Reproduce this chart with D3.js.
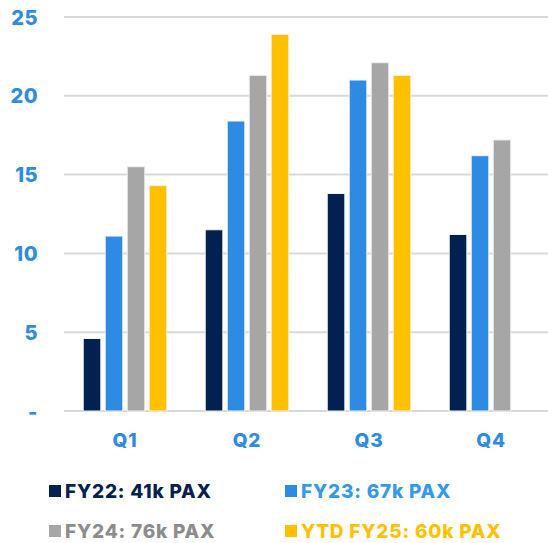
<!DOCTYPE html>
<html>
<head>
<meta charset="utf-8">
<script src="https://cdn.jsdelivr.net/npm/d3@7"></script>
<style>
  body { margin: 0; background: #fff; }
  svg text { font-family: Inter, "Open Sans", sans-serif; font-weight: 800; }
</style>
</head>
<body>
<div class="chart"></div>
<script>
// data
const quarters = ['Q1', 'Q2', 'Q3', 'Q4'];
const seriesNames = ['FY22', 'FY23', 'FY24', 'FY25'];
const fy22 = [4.6, 11.5, 13.8, 11.2];
const fy23 = [11.1, 18.4, 21.0, 16.2];
const fy24 = [15.5, 21.3, 22.1, 17.2];
const fy25 = [14.3, 23.9, 21.3, null];
const yTicks = [0, 5, 10, 15, 20, 25];
const legendLabels = ['FY22: 41k PAX', 'FY23: 67k PAX', 'FY24: 76k PAX', 'YTD FY25: 60k PAX'];

const barColors = ['#022050', '#2e8be4', '#a6a6a6', '#ffc000'];
const textColors = ['#022050', '#3399ee', '#8c8c8c', '#ffc000'];

const width = 548, height = 543;
const svg = d3.select('.chart').append('svg')
    .attr('width', width)
    .attr('height', height);

const allSeries = [fy22, fy23, fy24, fy25];

const x = d3.scaleBand()
    .domain(quarters)
    .range([64, 552]);

const xInner = d3.scaleBand()
    .domain(seriesNames)
    .range([0, x.bandwidth()])
    .paddingInner(0.2)
    .paddingOuter(0.875);

const y = d3.scaleLinear()
    .domain([0, 25])
    .range([411, 17]);

// gridlines
svg.append('g')
    .selectAll('line')
    .data(yTicks)
    .enter().append('line')
    .attr('x1', 64)
    .attr('x2', width)
    .attr('y1', d => y(d))
    .attr('y2', d => y(d))
    .style('stroke', '#d9d9d9')
    .style('stroke-width', 2);

// y axis labels
const yAxis = d3.axisLeft(y)
    .tickValues(yTicks)
    .tickSize(0)
    .tickPadding(0)
    .tickFormat(d => d === 0 ? '-' : d);

svg.append('g')
    .attr('transform', 'translate(38,0)')
    .call(yAxis)
    .call(g => g.select('.domain').remove())
    .selectAll('text')
    .style('font-size', '20px')
    .style('letter-spacing', '0.5px')
    .style('fill', '#2e8be4')
    .attr('dy', '0.35em');

// bars
const groups = svg.append('g')
    .selectAll('g')
    .data(quarters)
    .enter().append('g')
    .attr('transform', d => `translate(${x(d)},0)`);

groups.selectAll('rect')
    .data((q, qi) => seriesNames.map((s, si) => ({ s: s, si: si, v: allSeries[si][qi] })).filter(d => d.v != null))
    .enter().append('rect')
    .attr('x', d => xInner(d.s))
    .attr('y', d => y(d.v))
    .attr('width', xInner.bandwidth())
    .attr('height', d => y(0) - y(d.v))
    .style('fill', d => barColors[d.si])
    .style('stroke', '#f2f2f2')
    .style('stroke-width', 1);

// x axis labels
const xAxis = d3.axisBottom(x).tickSize(0).tickPadding(0);
svg.append('g')
    .attr('transform', 'translate(0,440)')
    .call(xAxis)
    .call(g => g.select('.domain').remove())
    .selectAll('text')
    .attr('dy', '0.35em')
    .style('font-size', '19px')
    .style('letter-spacing', '0.8px')
    .style('fill', '#2e8be4');

// legend
const legendPos = [[49, 491], [285, 491], [49, 531], [285, 531]];
const legend = svg.append('g')
    .selectAll('g')
    .data(legendLabels)
    .enter().append('g')
    .attr('transform', (d, i) => `translate(${legendPos[i][0]},${legendPos[i][1]})`);

legend.append('rect')
    .attr('x', 0)
    .attr('y', -6)
    .attr('width', 12)
    .attr('height', 12)
    .style('fill', (d, i) => barColors[i]);

legend.append('text')
    .attr('x', 16)
    .attr('dy', '0.36em')
    .style('font-size', '19px')
    .style('letter-spacing', '0.8px')
    .style('fill', (d, i) => textColors[i])
    .text(d => d);
</script>
</body>
</html>
